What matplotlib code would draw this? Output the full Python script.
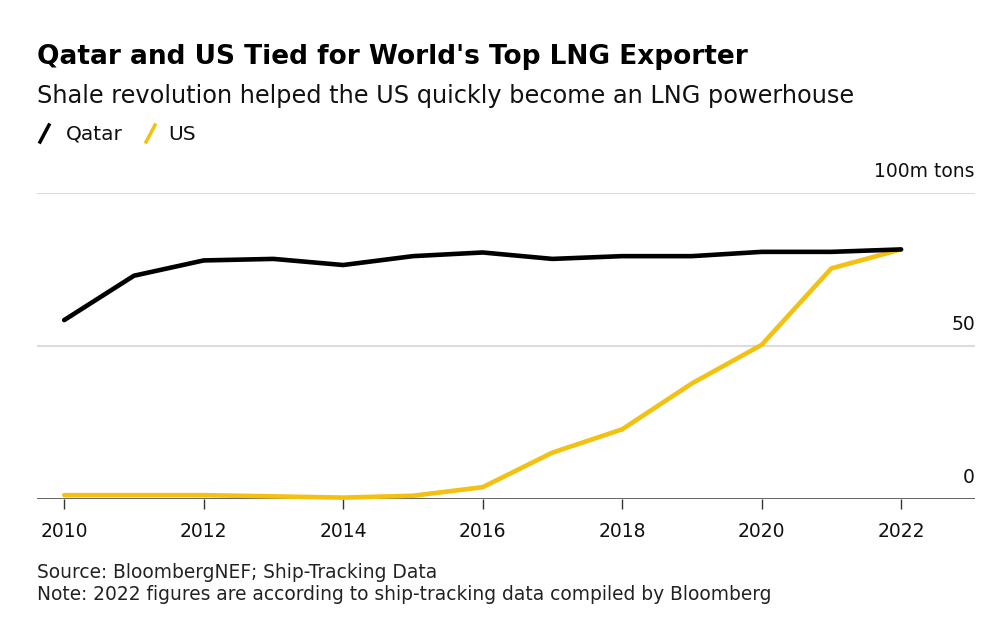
import matplotlib
matplotlib.use("Agg")
import matplotlib.pyplot as plt
from matplotlib.lines import Line2D

plt.rcParams['font.family'] = ['DejaVu Sans']

years = [2010, 2011, 2012, 2013, 2014, 2015, 2016, 2017, 2018, 2019, 2020, 2021, 2022]
qatar = [58.3, 72.8, 77.8, 78.3, 76.3, 79.2, 80.4, 78.3, 79.2, 79.2, 80.6, 80.6, 81.4]
us = [1.1, 1.1, 1.1, 0.7, 0.3, 0.9, 3.7, 15.0, 22.6, 37.6, 50.2, 75.2, 81.4]
xtick_years = [2010, 2012, 2014, 2016, 2018, 2020, 2022]
ytick_vals = [0, 50, 100]
ytick_labels = ["0", "50", "100m tons"]

QATAR_C = "#000000"
US_C = "#F2C111"

W, H = 1000, 621
fig = plt.figure(figsize=(W / 100, H / 100), dpi=100)
ax = fig.add_axes([37 / W, 1 - 498.5 / H, 938 / W, 306 / H])

ax.plot(years, qatar, color=QATAR_C, lw=3.3, solid_capstyle='round', clip_on=False, zorder=4)
ax.plot(years, us, color=US_C, lw=3.3, solid_capstyle='round', clip_on=False, zorder=3)

ax.set_xlim(2009.61, 2023.06)
ax.set_ylim(0, 100)

for v in ytick_vals[1:]:
    ax.axhline(v, color="#dcdcdc", lw=1.5, zorder=1)
ax.axhline(0, color="#555555", lw=2.0, zorder=2)

for v, lab in zip(ytick_vals, ytick_labels):
    ax.annotate(lab, xy=(1, v), xycoords=('axes fraction', 'data'),
                xytext=(0, 8), textcoords='offset points',
                ha='right', va='bottom', fontsize=13.5, color='#111111')

ax.set_yticks([])
ax.set_xticks(xtick_years)
ax.set_xticklabels([str(y) for y in xtick_years], fontsize=13.5, color='#111111')
ax.tick_params(axis='x', length=7, width=1, color='#333333', pad=10)
for s in ax.spines.values():
    s.set_visible(False)
ax.set_facecolor('none')

fig.text(37 / W, 1 - 57 / H, "Qatar and US Tied for World's Top LNG Exporter",
         fontsize=19, fontweight='bold', ha='left', va='center', color='#000000')
fig.text(37 / W, 1 - 96 / H, "Shale revolution helped the US quickly become an LNG powerhouse",
         fontsize=17.3, ha='left', va='center', color='#111111')

# legend
fig.add_artist(Line2D([40 / W, 49 / W], [1 - 142 / H, 1 - 125 / H], color=QATAR_C, lw=2.5))
fig.text(66 / W, 1 - 134 / H, "Qatar", fontsize=14.5, ha='left', va='center', color='#111111')
fig.add_artist(Line2D([146 / W, 155 / W], [1 - 142 / H, 1 - 125 / H], color=US_C, lw=2.5))
fig.text(168 / W, 1 - 134 / H, "US", fontsize=14.5, ha='left', va='center', color='#111111')

fig.text(37 / W, 1 - 572 / H, "Source: BloombergNEF; Ship-Tracking Data",
         fontsize=13.4, ha='left', va='center', color='#222222')
fig.text(37 / W, 1 - 595 / H, "Note: 2022 figures are according to ship-tracking data compiled by Bloomberg",
         fontsize=13.4, ha='left', va='center', color='#222222')

fig.savefig("out.png", dpi=100, facecolor='white')
